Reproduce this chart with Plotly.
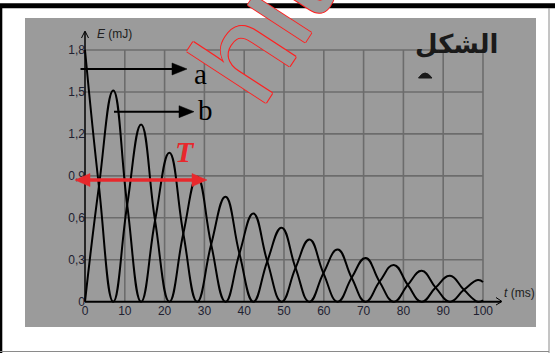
import plotly.graph_objects as go

# ---------------- data ----------------
t_ms = [0, 3.5, 7.1, 10.6, 14.1, 17.6, 21.2, 24.7, 28.2, 31.7, 35.3, 38.8, 42.3, 45.8,
        49.4, 52.9, 56.4, 59.9, 63.5, 67.0, 70.5, 74.0, 77.6, 81.1, 84.6, 88.1, 91.7,
        95.2, 98.7, 100]
energy_a = [1.80, 0.825, 0, 0.692, 1.268, 0.581, 0, 0.488, 0.894, 0.410, 0, 0.344, 0.630, 0.289,
            0, 0.242, 0.444, 0.204, 0, 0.171, 0.313, 0.143, 0, 0.120, 0.221, 0.101, 0,
            0.085, 0.155, 0.14]
energy_b = [0, 0.825, 1.511, 0.692, 0, 0.581, 1.065, 0.488, 0, 0.410, 0.751, 0.344, 0, 0.289,
            0.529, 0.242, 0, 0.204, 0.373, 0.171, 0, 0.143, 0.263, 0.120, 0, 0.101, 0.185,
            0.085, 0, 0.01]
x_ticks = [0, 10, 20, 30, 40, 50, 60, 70, 80, 90, 100]
x_ticktext = ["0", "10", "20", "30", "40", "50", "60", "70", "80", "90", "100"]
y_ticks = [0, 0.3, 0.6, 0.9, 1.2, 1.5, 1.8]
y_ticktext = ["0", "0,3", "0,6", "0,9", "1,2", "1,5", "1,8"]

# ---------------- layout geometry (pixels) ----------------
FW, FH = 555, 353
L, R, T, B = 25, 536, 18, 327          # grey panel = plot area
W, H = R - L, B - T
X0PX, X100PX = 85, 483                  # t = 0 and t = 100
Y0PX, Y18PX = 301.7, 50                 # E = 0 and E = 1.8
xs = (X100PX - X0PX) / 100.0
ys = (Y0PX - Y18PX) / 1.8
xr = [(L - X0PX) / xs, (R - X0PX) / xs]
yr = [(Y0PX - B) / ys, (Y0PX - T) / ys]


def DX(px):
    return (px - X0PX) / xs


def DY(py):
    return (Y0PX - py) / ys


def PX(px):
    return (px - L) / W


def PY(py):
    return (B - py) / H


GREY = "#9b9b9b"
GRID = "#6c6c6c"
RED = "#e8282c"

fig = go.Figure()
for yv in (energy_a, energy_b):
    fig.add_trace(go.Scatter(x=t_ms, y=yv, mode="lines",
                             line=dict(color="black", width=2, shape="spline", smoothing=1.3),
                             hoverinfo="skip", showlegend=False))

shapes = []
# frame of the picture
shapes.append(dict(type="rect", xref="paper", yref="paper", x0=PX(0), x1=PX(FW), y0=PY(8.3), y1=PY(3.2),
                   fillcolor="black", line=dict(width=0), layer="below"))
shapes.append(dict(type="rect", xref="paper", yref="paper", x0=PX(0), x1=PX(2.3), y0=PY(FH), y1=PY(8),
                   fillcolor="black", line=dict(width=0), layer="below"))
shapes.append(dict(type="line", xref="paper", yref="paper", x0=PX(549), x1=PX(549), y0=PY(8), y1=PY(FH),
                   line=dict(color="#8a8a8a", width=1), layer="below"))
shapes.append(dict(type="line", xref="paper", yref="paper", x0=PX(0), x1=PX(549), y0=PY(351.5), y1=PY(351.5),
                   line=dict(color="#8a8a8a", width=1.2), layer="below"))
# grid
for xv in x_ticks[1:]:
    shapes.append(dict(type="line", x0=xv, x1=xv, y0=0, y1=y_ticks[-1],
                       line=dict(color=GRID, width=1.6), layer="below"))
for yv in y_ticks[1:]:
    shapes.append(dict(type="line", x0=0, x1=x_ticks[-1], y0=yv, y1=yv,
                       line=dict(color=GRID, width=1.6), layer="below"))
# axes with open arrow tips
shapes.append(dict(type="line", x0=0, x1=DX(501), y0=0, y1=0, line=dict(color="black", width=2)))
shapes.append(dict(type="line", x0=0, x1=0, y0=0, y1=DY(32), line=dict(color="black", width=1.5)))
shapes.append(dict(type="path", xref="paper", yref="paper",
                   path=f"M{PX(496)},{PY(297.5)} L{PX(502)},{PY(301.5)} L{PX(496)},{PY(305)}",
                   line=dict(color="black", width=1)))
shapes.append(dict(type="path", xref="paper", yref="paper",
                   path=f"M{PX(81.5)},{PY(38)} L{PX(85)},{PY(31)} L{PX(88.5)},{PY(38)}",
                   line=dict(color="black", width=1)))


def harrow(x1, x2, y, color, width, hl, hh, both=False):
    out = [dict(type="line", xref="paper", yref="paper", x0=PX(x1 + (hl - 2 if both else 0)),
                x1=PX(x2 - hl + 2), y0=PY(y), y1=PY(y), line=dict(color=color, width=width))]
    out.append(dict(type="path", xref="paper", yref="paper",
                    path=f"M{PX(x2)},{PY(y)} L{PX(x2 - hl)},{PY(y - hh)} L{PX(x2 - hl)},{PY(y + hh)} Z",
                    fillcolor=color, line=dict(color=color, width=0.5)))
    if both:
        out.append(dict(type="path", xref="paper", yref="paper",
                        path=f"M{PX(x1)},{PY(y)} L{PX(x1 + hl)},{PY(y - hh)} L{PX(x1 + hl)},{PY(y + hh)} Z",
                        fillcolor=color, line=dict(color=color, width=0.5)))
    return out


shapes += harrow(80.5, 187, 69, "black", 2, 15, 6)
shapes += harrow(114, 194, 111.7, "black", 2, 15, 6)
shapes += harrow(75, 207, 180, RED, 3.5, 15, 6.5, both=True)
# small dark cap under the Arabic word
shapes.append(dict(type="path", xref="paper", yref="paper",
                   path=f"M{PX(418.5)},{PY(78)} Q{PX(425)},{PY(68)} {PX(432)},{PY(78)} Z",
                   fillcolor="#1a1a1a", line=dict(color="#1a1a1a", width=1)))


def label(px, py, text, font, xanchor="center"):
    return dict(xref="paper", yref="paper", x=PX(px), y=PY(py), text=text, showarrow=False,
                xanchor=xanchor, yanchor="middle", font=font)


ann = []
# watermark (outlined red letters)
wm = label(298, -29, "hitec", dict(family="Liberation Sans", size=130, color=GREY,
                                    shadow="1px 0 0 #ff2020, -1px 0 0 #ff2020, 0 1px 0 #ff2020, 0 -1px 0 #ff2020"))
wm["textangle"] = -57
ann.append(wm)
ann.append(label(200, 74, "a", dict(family="Liberation Serif", size=29, color="black")))
ann.append(label(205, 110, "b", dict(family="Liberation Serif", size=29, color="black")))
ann.append(label(185, 151, "<b><i>T</i></b>", dict(family="Liberation Serif", size=30, color=RED)))
ann.append(label(95, 34, "<i>E</i> (mJ)", dict(family="Liberation Sans", size=12, color="#202020"), "left"))
ann.append(label(502, 292.5, "<i>t</i> (ms)", dict(family="Liberation Sans", size=12, color="#202020"), "left"))
ann.append(label(456, 44, "<b>الشكل</b>", dict(family="DejaVu Sans", size=26, color="#1a1a1a")))

fig.update_layout(
    width=FW, height=FH,
    margin=dict(l=L, r=FW - R, t=T, b=FH - B, pad=0),
    paper_bgcolor="white", plot_bgcolor=GREY,
    shapes=shapes, annotations=ann,
    xaxis=dict(range=xr, showgrid=False, zeroline=False, showline=False, ticks="",
               tickvals=x_ticks, ticktext=x_ticktext, anchor="free", position=PY(Y0PX),
               tickfont=dict(family="Liberation Sans", size=12, color="#202030"), fixedrange=True),
    yaxis=dict(range=yr, showgrid=False, zeroline=False, showline=False, ticks="",
               tickvals=y_ticks, ticktext=y_ticktext, anchor="free", position=PX(X0PX),
               tickfont=dict(family="Liberation Sans", size=12, color="#202030"), fixedrange=True),
)
fig.write_html("out.html", config={"displayModeBar": False},
               post_script="document.body.style.margin='0';document.body.style.padding='0';")
